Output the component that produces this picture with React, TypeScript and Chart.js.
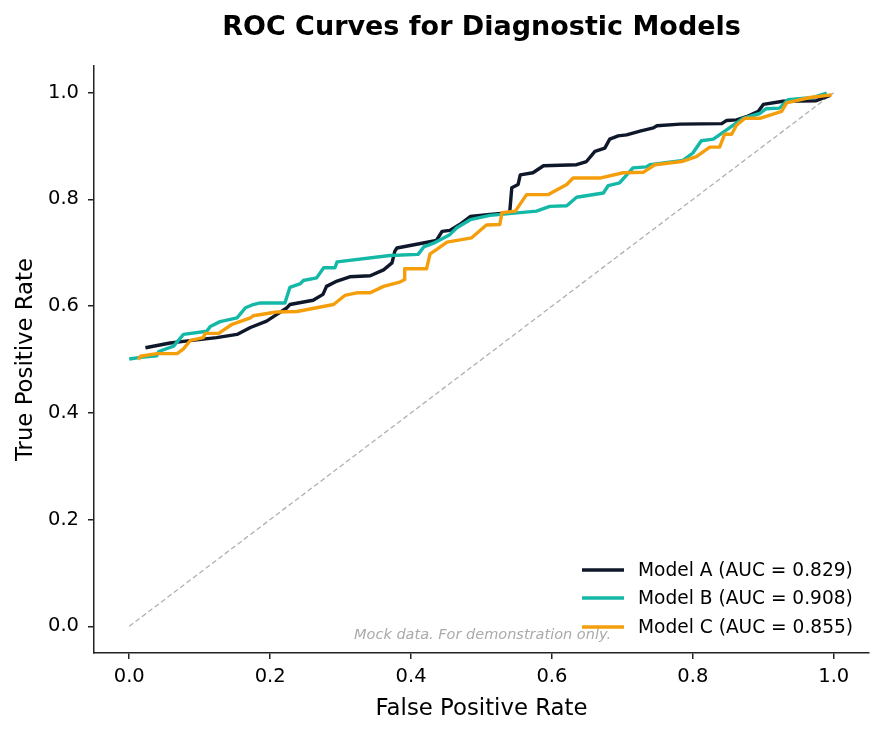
import React, { useEffect, useRef } from "react";
import { Chart, registerables } from "chart.js";

Chart.register(...registerables);

const modelLabels = ["Model A (AUC = 0.829)", "Model B (AUC = 0.908)", "Model C (AUC = 0.855)"];
const modelColors = ["#0f172a", "#14b8a6", "#f59e0b"];

const fprA = [0.023, 0.058, 0.077, 0.124, 0.153, 0.172, 0.195, 0.209, 0.224, 0.228, 0.261, 0.275, 0.280, 0.295, 0.313, 0.342, 0.361, 0.373, 0.377, 0.380, 0.436, 0.444, 0.455, 0.469, 0.484, 0.512, 0.540, 0.543, 0.552, 0.555, 0.573, 0.588, 0.635, 0.649, 0.661, 0.675, 0.682, 0.694, 0.706, 0.725, 0.744, 0.749, 0.782, 0.841, 0.848, 0.862, 0.876, 0.893, 0.900, 0.928, 0.975, 0.995];
const tprA = [0.522, 0.531, 0.534, 0.541, 0.547, 0.560, 0.572, 0.584, 0.597, 0.603, 0.611, 0.622, 0.637, 0.647, 0.655, 0.657, 0.668, 0.681, 0.703, 0.709, 0.723, 0.740, 0.742, 0.753, 0.768, 0.772, 0.775, 0.822, 0.828, 0.846, 0.850, 0.863, 0.865, 0.871, 0.890, 0.896, 0.913, 0.919, 0.921, 0.928, 0.934, 0.938, 0.941, 0.942, 0.948, 0.949, 0.955, 0.965, 0.978, 0.984, 0.985, 0.995];

const fprB = [0.0, 0.016, 0.039, 0.042, 0.063, 0.077, 0.110, 0.115, 0.129, 0.153, 0.165, 0.176, 0.186, 0.221, 0.228, 0.243, 0.247, 0.266, 0.276, 0.292, 0.295, 0.370, 0.410, 0.418, 0.432, 0.455, 0.465, 0.484, 0.512, 0.578, 0.597, 0.621, 0.635, 0.673, 0.680, 0.696, 0.715, 0.734, 0.739, 0.786, 0.800, 0.812, 0.829, 0.852, 0.871, 0.895, 0.904, 0.923, 0.935, 0.971, 0.990];
const tprB = [0.501, 0.504, 0.507, 0.515, 0.525, 0.547, 0.553, 0.562, 0.571, 0.578, 0.597, 0.603, 0.606, 0.606, 0.635, 0.642, 0.648, 0.653, 0.672, 0.672, 0.683, 0.695, 0.697, 0.711, 0.718, 0.734, 0.747, 0.762, 0.770, 0.778, 0.787, 0.788, 0.804, 0.812, 0.826, 0.831, 0.859, 0.861, 0.865, 0.873, 0.887, 0.910, 0.913, 0.934, 0.952, 0.961, 0.970, 0.971, 0.987, 0.991, 0.999];

const fprC = [0.013, 0.016, 0.039, 0.068, 0.077, 0.087, 0.105, 0.108, 0.127, 0.146, 0.172, 0.176, 0.209, 0.238, 0.290, 0.306, 0.323, 0.342, 0.361, 0.384, 0.391, 0.391, 0.422, 0.427, 0.436, 0.451, 0.486, 0.493, 0.507, 0.526, 0.529, 0.548, 0.564, 0.595, 0.621, 0.630, 0.668, 0.701, 0.730, 0.746, 0.784, 0.805, 0.824, 0.838, 0.845, 0.855, 0.862, 0.874, 0.895, 0.926, 0.933, 0.966, 0.997];
const tprC = [0.500, 0.506, 0.511, 0.511, 0.520, 0.536, 0.541, 0.549, 0.549, 0.566, 0.578, 0.582, 0.589, 0.590, 0.603, 0.620, 0.625, 0.625, 0.637, 0.645, 0.650, 0.670, 0.670, 0.698, 0.706, 0.720, 0.728, 0.736, 0.752, 0.753, 0.775, 0.778, 0.809, 0.809, 0.828, 0.840, 0.840, 0.850, 0.851, 0.865, 0.871, 0.880, 0.898, 0.898, 0.922, 0.922, 0.939, 0.952, 0.952, 0.965, 0.981, 0.991, 0.996];

const diagX = [0, 1];
const diagY = [0, 1];

const tickValues = [0.0, 0.2, 0.4, 0.6, 0.8, 1.0];

const titleText = "ROC Curves for Diagnostic Models";
const xTitle = "False Positive Rate";
const yTitle = "True Positive Rate";
const watermark = "Mock data. For demonstration only.";

const FONT = "'DejaVu Sans', 'Liberation Sans', sans-serif";

function pts(xs: number[], ys: number[]) {
  return xs.map((x, i) => ({ x, y: ys[i] }));
}

const decorPlugin = {
  id: "decor",
  afterDraw(chart: any) {
    const ctx = chart.ctx as CanvasRenderingContext2D;
    const area = chart.chartArea;
    ctx.save();
    // title
    ctx.fillStyle = "#000";
    ctx.font = `bold 27px ${FONT}`;
    ctx.textAlign = "center";
    ctx.textBaseline = "alphabetic";
    ctx.fillText(titleText, (area.left + area.right) / 2, 35);
    // x title
    ctx.font = `22.8px ${FONT}`;
    ctx.fillText(xTitle, (area.left + area.right) / 2, 715);
    // y title
    ctx.save();
    ctx.translate(32, (area.top + area.bottom) / 2);
    ctx.rotate(-Math.PI / 2);
    ctx.fillText(yTitle, 0, 0);
    ctx.restore();
    // watermark
    ctx.font = `italic 14.5px ${FONT}`;
    ctx.fillStyle = "#aaaaaa";
    ctx.textAlign = "right";
    ctx.fillText(watermark, 611, 639);
    // legend
    const rows = [570, 598, 627];
    ctx.font = `18.6px ${FONT}`;
    ctx.textAlign = "left";
    ctx.textBaseline = "middle";
    modelLabels.forEach((lab, i) => {
      ctx.strokeStyle = modelColors[i];
      ctx.lineWidth = 3.4;
      ctx.beginPath();
      ctx.moveTo(582, rows[i]);
      ctx.lineTo(624, rows[i]);
      ctx.stroke();
      ctx.fillStyle = "#000";
      ctx.fillText(lab, 638, rows[i] + 1);
    });
    ctx.restore();
  },
};

export default function App() {
  const ref = useRef<HTMLCanvasElement | null>(null);
  useEffect(() => {
    if (!ref.current) return;
    const setTicks = (scale: any) => {
      scale.ticks = tickValues.map((v) => ({ value: v }));
    };
    const chart = new Chart(ref.current, {
      type: "scatter",
      data: {
        datasets: [
          {
            label: modelLabels[0],
            data: pts(fprA, tprA),
            borderColor: modelColors[0],
            backgroundColor: modelColors[0],
            showLine: true,
            borderWidth: 3.4,
            pointRadius: 0,
            borderJoinStyle: "round",
            order: 2,
          },
          {
            label: modelLabels[1],
            data: pts(fprB, tprB),
            borderColor: modelColors[1],
            backgroundColor: modelColors[1],
            showLine: true,
            borderWidth: 3.4,
            pointRadius: 0,
            borderJoinStyle: "round",
            order: 1,
          },
          {
            label: modelLabels[2],
            data: pts(fprC, tprC),
            borderColor: modelColors[2],
            backgroundColor: modelColors[2],
            showLine: true,
            borderWidth: 3.4,
            pointRadius: 0,
            borderJoinStyle: "round",
            order: 0,
          },
          {
            label: "Chance",
            data: pts(diagX, diagY),
            borderColor: "#b0b0b0",
            showLine: true,
            borderWidth: 1.3,
            borderDash: [5, 3],
            pointRadius: 0,
            order: 3,
          },
        ],
      } as any,
      options: {
        responsive: false,
        animation: false,
        devicePixelRatio: 1,
        layout: { padding: { top: 66, right: 16, left: 0, bottom: 0 } },
        plugins: {
          legend: { display: false },
          title: { display: false },
          tooltip: { enabled: false },
        },
        scales: {
          x: {
            type: "linear",
            min: -0.05,
            max: 1.05,
            afterBuildTicks: setTicks,
            afterFit: (s: any) => {
              s.height = 82;
            },
            grid: { drawOnChartArea: false, drawTicks: true, tickLength: 6, color: "#222", lineWidth: 1.5 },
            border: { display: true, color: "#222", width: 1.5 },
            ticks: {
              color: "#000",
              font: { family: FONT, size: 19.5 },
              padding: 6,
              maxRotation: 0,
              callback: (v: any) => Number(v).toFixed(1),
            },
          },
          y: {
            type: "linear",
            min: -0.05,
            max: 1.05,
            afterBuildTicks: setTicks,
            afterFit: (s: any) => {
              s.width = 94;
            },
            grid: { drawOnChartArea: false, drawTicks: true, tickLength: 6, color: "#222", lineWidth: 1.5 },
            border: { display: true, color: "#222", width: 1.5 },
            ticks: {
              color: "#000",
              font: { family: FONT, size: 19.5 },
              padding: 9,
              callback: (v: any) => Number(v).toFixed(1),
            },
          },
        },
      },
      plugins: [decorPlugin],
    } as any);
    return () => chart.destroy();
  }, []);
  return (
    <div style={{ position: "absolute", left: 0, top: 0, width: 885, height: 735, background: "#fff" }}>
      <canvas ref={ref} width={885} height={735} style={{ width: 885, height: 735 }} />
    </div>
  );
}
